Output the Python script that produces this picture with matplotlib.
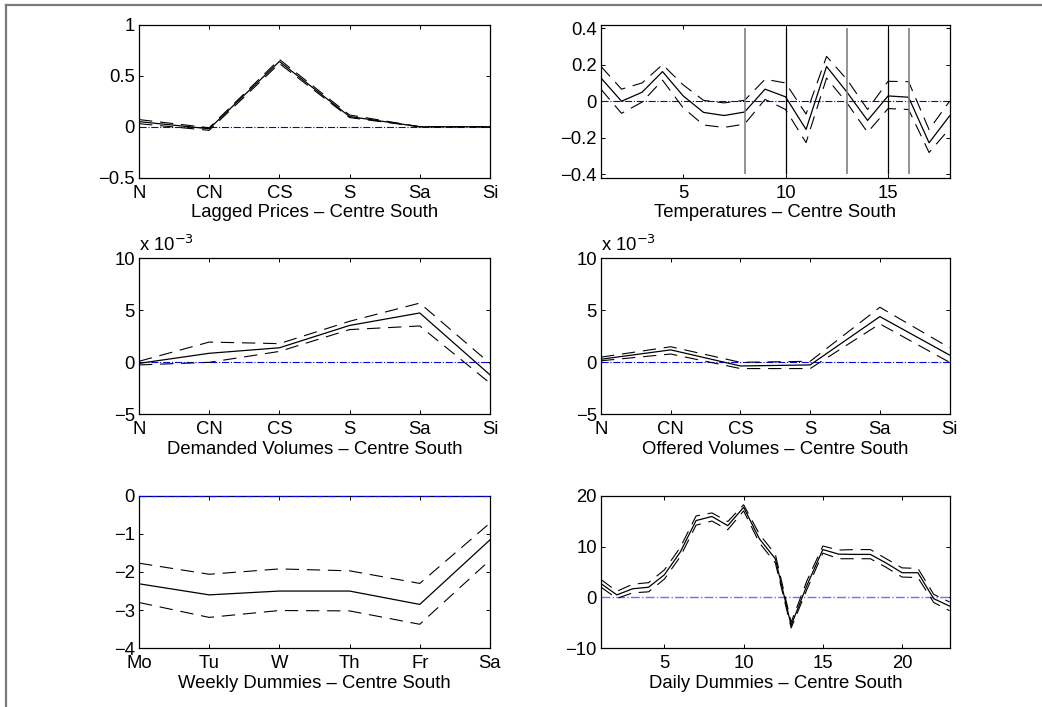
import matplotlib
matplotlib.use('Agg')
import matplotlib.pyplot as plt
from matplotlib.lines import Line2D

plt.rcParams['font.family'] = ['Liberation Sans', 'DejaVu Sans']
plt.rcParams['font.size'] = 13.3

# Lagged prices
regions = ['N', 'CN', 'CS', 'S', 'Sa', 'Si']
lag_mid = [0.05, -0.02, 0.64, 0.10, 0.0, 0.0]
lag_up = [0.07, -0.01, 0.66, 0.115, 0.0, 0.0]
lag_lo = [0.03, -0.035, 0.62, 0.09, 0.0, 0.0]

# Temperatures
temp_x = list(range(1, 19))
temp_mid = [0.127, 0.0, 0.049, 0.162, 0.03, -0.061, -0.078, -0.059, 0.066,
            0.024, -0.154, 0.19, 0.049, -0.105, 0.029, 0.022, -0.227, -0.08]
temp_up = [0.19, 0.066, 0.10, 0.20, 0.09, 0.005, -0.009, 0.005, 0.12,
           0.10, -0.07, 0.245, 0.118, -0.045, 0.109, 0.107, -0.155, 0.0]
temp_lo = [0.065, -0.066, -0.005, 0.115, -0.035, -0.13, -0.143, -0.125, 0.01,
           -0.045, -0.226, 0.127, -0.01, -0.17, -0.04, -0.045, -0.28, -0.15]
temp_breaks_black = [10, 15]
temp_breaks_grey = [8, 13, 16]

# Demanded volumes (x 1e-3)
dem_mid = [-0.1, 0.87, 1.4, 3.55, 4.75, -1.2]
dem_up = [0.1, 1.95, 1.8, 3.95, 5.7, -0.1]
dem_lo = [-0.25, 0.0, 1.05, 3.15, 3.5, -2.0]

# Offered volumes (x 1e-3)
off_mid = [0.3, 1.2, -0.35, -0.25, 4.4, 0.7]
off_up = [0.5, 1.5, 0.0, 0.1, 5.3, 1.4]
off_lo = [0.15, 0.8, -0.6, -0.6, 3.7, 0.0]

# Weekly dummies
days = ['Mo', 'Tu', 'W', 'Th', 'Fr', 'Sa']
week_mid = [-2.31, -2.6, -2.5, -2.5, -2.85, -1.16]
week_up = [-1.77, -2.06, -1.92, -1.97, -2.3, -0.72]
week_lo = [-2.8, -3.19, -3.01, -3.02, -3.37, -1.69]

# Daily dummies
hour_x = list(range(1, 24))
day_mid = [2.7, 0.5, 1.7, 2.0, 4.45, 8.9, 15.1, 15.9, 14.1, 17.7, 11.5, 7.6,
           -5.5, 2.4, 9.4, 8.5, 8.45, 8.45, 6.75, 4.85, 4.85, -0.25, -1.7]
day_up = [3.5, 1.2, 2.6, 2.9, 5.4, 9.8, 16.0, 16.6, 14.9, 18.2, 12.4, 8.5,
          -4.9, 3.3, 10.1, 9.3, 9.4, 9.4, 7.6, 5.8, 5.7, 0.6, -0.9]
day_lo = [2.0, -0.2, 0.9, 1.1, 3.6, 8.0, 14.2, 15.0, 13.3, 17.0, 10.7, 6.8,
          -6.0, 1.6, 8.7, 7.6, 7.6, 7.6, 5.9, 4.0, 3.9, -1.0, -2.6]

dash = (0, (12, 7))
col_l, col_r = 0.1334, 0.5768
width_l, width_r = 0.3368, 0.3345
rows = [(0.7486, 0.2164), (0.4140, 0.2205), (0.0830, 0.2160)]


def style(ax):
    for s in ax.spines.values():
        s.set_linewidth(0.9)
    ax.tick_params(direction='in', length=3, width=0.7, top=True, right=True)
    ax.tick_params(axis='x', pad=5)
    ax.tick_params(axis='y', pad=3)


def band(ax, x, mid, up, lo):
    ax.plot(x, up, color='black', lw=0.8, linestyle=dash)
    ax.plot(x, lo, color='black', lw=0.8, linestyle=dash)
    ax.plot(x, mid, color='black', lw=0.9)


fig = plt.figure(figsize=(10.42, 7.07), dpi=100)

# figure frame (top and left edges visible)
fig.add_artist(Line2D([6 / 1042, 6 / 1042], [0, 1 - 5 / 707], transform=fig.transFigure, color='#7a7a7a', lw=1.6))
fig.add_artist(Line2D([6 / 1042, 1], [1 - 5 / 707, 1 - 5 / 707], transform=fig.transFigure, color='#7a7a7a', lw=1.6))

pos_x = list(range(1, 7))

# 1. Lagged prices
ax = fig.add_axes([col_l, rows[0][0], width_l, rows[0][1]])
ax.plot([1, 6], [0, 0], color='blue', lw=0.8, linestyle='-.')
band(ax, pos_x, lag_mid, lag_up, lag_lo)
ax.set_xlim(1, 6)
ax.set_ylim(-0.5, 1)
ax.set_xticks(pos_x)
ax.set_xticklabels(regions)
ax.set_yticks([-0.5, 0, 0.5, 1])
ax.set_yticklabels(['\u22120.5', '0', '0.5', '1'])
ax.set_xlabel('Lagged Prices \u2013 Centre South', labelpad=2)
style(ax)

# 2. Temperatures
ax = fig.add_axes([col_r, rows[0][0], width_r, rows[0][1]])
ax.plot([1, 18], [0, 0], color='blue', lw=0.8, linestyle='-.')
band(ax, temp_x, temp_mid, temp_up, temp_lo)
ax.vlines(temp_breaks_grey, -0.4, 0.4, color='#808080', lw=1.2)
ax.vlines(temp_breaks_black, -0.4, 0.4, color='black', lw=0.9)
ax.set_xlim(1, 18)
ax.set_ylim(-0.418, 0.418)
ax.set_xticks([5, 10, 15])
ax.set_yticks([-0.4, -0.2, 0, 0.2, 0.4])
ax.set_yticklabels(['\u22120.4', '\u22120.2', '0', '0.2', '0.4'])
ax.set_xlabel('Temperatures \u2013 Centre South', labelpad=2)
style(ax)

# 3. Demanded volumes
ax = fig.add_axes([col_l, rows[1][0], width_l, rows[1][1]])
ax.plot([1, 6], [0, 0], color='blue', lw=0.8, linestyle='-.')
band(ax, pos_x, dem_mid, dem_up, dem_lo)
ax.set_xlim(1, 6)
ax.set_ylim(-5, 10)
ax.set_xticks(pos_x)
ax.set_xticklabels(regions)
ax.set_yticks([-5, 0, 5, 10])
ax.set_yticklabels(['\u22125', '0', '5', '10'])
ax.text(0.0, 1.02, 'x 10$^{\u22123}$', transform=ax.transAxes, ha='left', va='bottom')
ax.set_xlabel('Demanded Volumes \u2013 Centre South', labelpad=2)
style(ax)

# 4. Offered volumes
ax = fig.add_axes([col_r, rows[1][0], width_r, rows[1][1]])
ax.plot([1, 6], [0, 0], color='blue', lw=0.8, linestyle='-.')
band(ax, pos_x, off_mid, off_up, off_lo)
ax.set_xlim(1, 6)
ax.set_ylim(-5, 10)
ax.set_xticks(pos_x)
ax.set_xticklabels(regions)
ax.set_yticks([-5, 0, 5, 10])
ax.set_yticklabels(['\u22125', '0', '5', '10'])
ax.text(0.0, 1.02, 'x 10$^{\u22123}$', transform=ax.transAxes, ha='left', va='bottom')
ax.set_xlabel('Offered Volumes \u2013 Centre South', labelpad=2)
style(ax)

# 5. Weekly dummies
ax = fig.add_axes([col_l, rows[2][0], width_l, rows[2][1]])
ax.plot([1, 6], [0, 0], color='blue', lw=0.8, linestyle='-.', clip_on=False, zorder=3)
band(ax, pos_x, week_mid, week_up, week_lo)
ax.set_xlim(1, 6)
ax.set_ylim(-4, 0)
ax.set_xticks(pos_x)
ax.set_xticklabels(days)
ax.set_yticks([-4, -3, -2, -1, 0])
ax.set_yticklabels(['\u22124', '\u22123', '\u22122', '\u22121', '0'])
ax.set_xlabel('Weekly Dummies \u2013 Centre South', labelpad=2)
style(ax)

# 6. Daily dummies
ax = fig.add_axes([col_r, rows[2][0], width_r, rows[2][1]])
ax.plot([1, 23], [0, 0], color='#6f6fff', lw=1.0, linestyle='-.')
band(ax, hour_x, day_mid, day_up, day_lo)
ax.set_xlim(1, 23)
ax.set_ylim(-10, 20)
ax.set_xticks([5, 10, 15, 20])
ax.set_yticks([-10, 0, 10, 20])
ax.set_yticklabels(['\u221210', '0', '10', '20'])
ax.set_xlabel('Daily Dummies \u2013 Centre South', labelpad=2)
style(ax)

fig.savefig('out.png', dpi=100)
plt.close(fig)
